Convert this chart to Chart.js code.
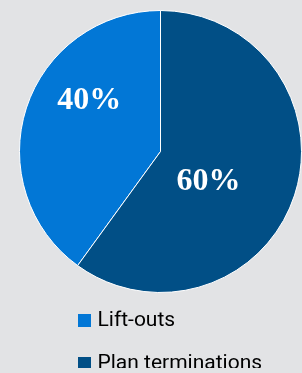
<!DOCTYPE html>
<html>
<head>
<meta charset="utf-8">
<script src="https://cdn.jsdelivr.net/npm/chart.js@4/dist/chart.umd.min.js"></script>
<style>
  html, body { margin: 0; padding: 0; background: #e2e3e5; }
  #wrap { width: 302px; height: 373px; }
</style>
</head>
<body>
<div id="wrap"><canvas id="c" width="302" height="373"></canvas></div>
<script>
// ---- data ----
const categories = ["Lift-outs", "Plan terminations"];
const shares = [40, 60];
const valueLabels = ["40%", "60%"];
const sliceColors = ["#0277d6", "#014f86"];

// label placement inside each slice (fraction of slice angle, fraction of radius)
const labelPlacement = [
  { angleFrac: 0.62, radiusFrac: 0.62 },
  { angleFrac: 0.564, radiusFrac: 0.40 }
];

const sliceLabelPlugin = {
  id: 'sliceLabels',
  afterDatasetsDraw(chart) {
    const ctx = chart.ctx;
    const meta = chart.getDatasetMeta(0);
    ctx.save();
    ctx.fillStyle = '#ffffff';
    ctx.font = 'bold 32px "Liberation Serif", "DejaVu Serif", serif';
    ctx.textAlign = 'center';
    ctx.textBaseline = 'middle';
    meta.data.forEach((arc, i) => {
      const p = arc.getProps(['x', 'y', 'startAngle', 'endAngle', 'outerRadius'], true);
      const pl = labelPlacement[i];
      const a = p.startAngle + (p.endAngle - p.startAngle) * pl.angleFrac;
      const r = p.outerRadius * pl.radiusFrac;
      ctx.fillText(valueLabels[i], p.x + Math.cos(a) * r, p.y + Math.sin(a) * r);
    });
    ctx.restore();
  }
};

const legendShift = { left: 82, topOffset: -5 };
const legendShiftPlugin = {
  id: 'legendShift',
  afterLayout(chart) {
    const l = chart.legend;
    const pad = l.options.labels.padding;
    const dx = legendShift.left - (l.left + pad);
    l.left += dx; l.right += dx;
    l.top += legendShift.topOffset; l.bottom += legendShift.topOffset;
  }
};

new Chart(document.getElementById('c'), {
  type: 'pie',
  data: {
    labels: categories,
    datasets: [{
      data: shares,
      backgroundColor: sliceColors,
      borderColor: '#ffffff',
      borderWidth: 1
    }]
  },
  options: {
    responsive: false,
    animation: false,
    rotation: 216,
    layout: { padding: { left: 19, top: 10, right: 0, bottom: 0 } },
    plugins: {
      tooltip: { enabled: false },
      legend: {
        position: 'bottom',
        align: 'start',
        maxHeight: 80,
        labels: {
          boxWidth: 5,
          boxHeight: 5,
          padding: 22,
          color: '#333333',
          font: { family: 'Roboto', size: 21 },
          generateLabels: (chart) => chart.data.labels.map((text, i) => ({
            text,
            fillStyle: sliceColors[i],
            strokeStyle: sliceColors[i],
            lineWidth: 8,
            lineJoin: 'miter',
            hidden: false,
            index: i
          }))
        }
      }
    }
  },
  plugins: [sliceLabelPlugin, legendShiftPlugin]
});
</script>
</body>
</html>
